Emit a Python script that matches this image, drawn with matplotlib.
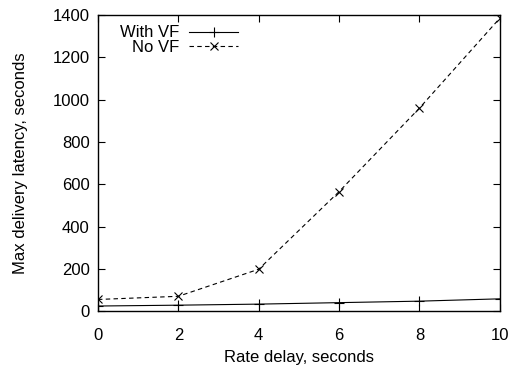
import matplotlib
matplotlib.use("Agg")
import matplotlib.pyplot as plt

plt.rcParams['font.family'] = ['Liberation Sans', 'DejaVu Sans']
plt.rcParams['font.size'] = 12

rate_delay = [0, 2, 4, 6, 8, 10]
with_vf = [24, 28, 33, 40, 47, 58]
no_vf = [55, 70, 198, 565, 960, 1385]

fig = plt.figure(figsize=(5.09, 3.66), dpi=100)
ax = fig.add_axes([0.1925, 0.150, 0.7895, 0.809])

ax.plot(rate_delay, with_vf, color='black', linewidth=0.8, marker='+',
        markersize=7, markeredgewidth=0.8, label='With VF')
ax.plot(rate_delay, no_vf, color='black', linewidth=0.8, linestyle=(0, (4, 3)),
        marker='x', markersize=5.5, markeredgewidth=0.8, label='No VF')

ax.set_xlim(0, 10)
ax.set_ylim(0, 1400)
ax.set_xticks(range(0, 11, 2))
ax.set_yticks(range(0, 1401, 200))
ax.tick_params(direction='in', top=True, right=True, length=5, width=0.8, pad=6)
ax.tick_params(axis='x', pad=12)
for s in ax.spines.values():
    s.set_linewidth(1.0)

ax.set_xlabel('Rate delay, seconds', labelpad=5)
ax.set_ylabel('Max delivery latency, seconds', labelpad=18)

ax.legend(loc='upper left', frameon=False, markerfirst=False, handlelength=2.9,
          borderaxespad=0.0, borderpad=0.0, labelspacing=-0.05, handletextpad=0.6,
          bbox_to_anchor=(0.055, 0.965))

fig.savefig('out.png', dpi=100)
